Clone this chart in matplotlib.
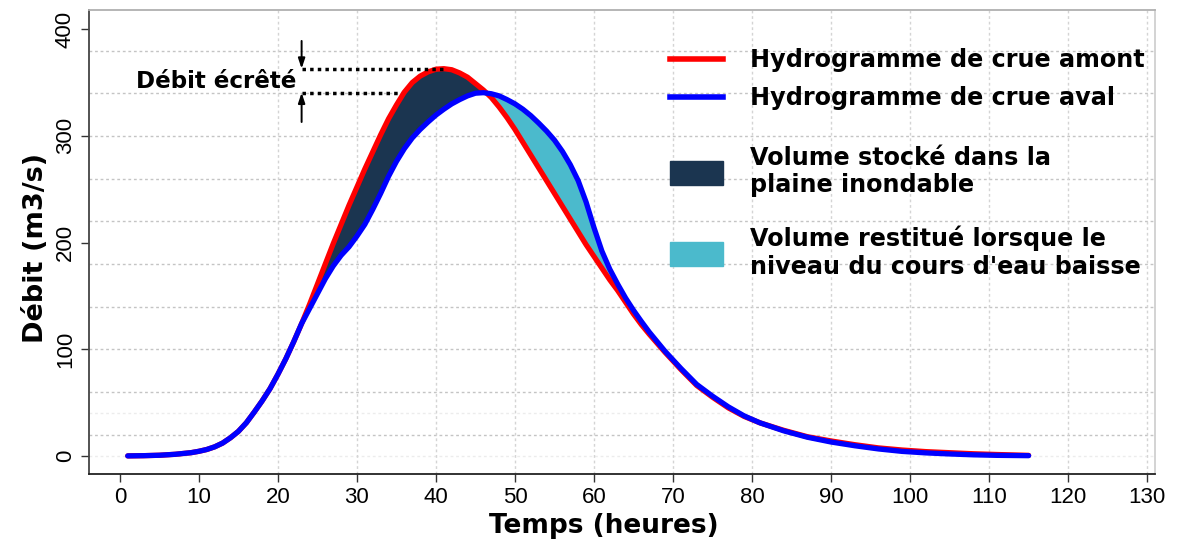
import matplotlib
matplotlib.use("Agg")
import matplotlib.pyplot as plt
from matplotlib.lines import Line2D
from matplotlib.patches import Patch
import numpy as np

# hours (shared by both hydrographs)
hours = [1, 3, 5, 7, 9, 10, 11, 12, 13, 14, 15, 16, 17, 18, 19, 20, 21, 22,
         23, 24, 25, 26, 27, 28, 29, 30, 31, 32, 33, 34, 35, 36, 37, 38, 39, 40,
         41, 42, 43, 44, 45, 46, 47, 48, 49, 50, 51, 52, 53, 54, 55, 56, 57, 58,
         59, 60, 61, 62, 63, 64, 65, 66, 67, 69, 71, 73, 75, 77, 79, 81, 84, 87,
         90, 93, 96, 99, 102, 105, 108, 111, 115]

# upstream flood hydrograph (m3/s)
amont = [0, 0.2, 0.6, 1.5, 3, 4.3, 6, 8.5, 12, 17, 23, 31, 41, 51.5, 63, 76.5, 91, 107,
         124, 142, 161, 180, 199, 217, 235, 252, 269, 285, 301, 316, 329, 341, 350, 356, 360, 362.5,
         363, 362, 359, 355, 349, 343, 336, 327, 317, 306, 294, 282, 270, 258, 246, 234, 222, 210,
         198, 187, 176, 165, 155, 144, 133, 123, 114, 97, 81, 66, 55, 45, 37, 31, 24, 18,
         14, 10.5, 7.5, 5.5, 4, 3, 2, 1.3, 0.5]

# downstream flood hydrograph (m3/s)
aval = [0, 0.2, 0.6, 1.5, 3, 4.3, 6, 8.5, 12, 17, 23, 31, 41, 51.5, 63, 76.5, 91, 107,
        124, 138, 152, 166, 178, 188, 196, 206, 217, 231, 246, 262, 276, 288, 298, 306, 313, 319.5,
        325, 330, 334, 337.5, 340, 340.5, 339.5, 337.5, 334, 330, 325, 319, 312, 304.5, 296, 285.5, 273, 258,
        238, 214, 192, 175, 161, 148, 136.5, 126, 116, 98, 82, 67, 56, 46, 37.5, 31, 23.5, 17.5,
        13, 9.5, 6.5, 4.2, 2.8, 1.8, 1, 0.5, 0.2]

xticks = list(range(0, 131, 10))
yticks = [0, 100, 200, 300, 400]
peak_amont = max(amont)
peak_aval = max(aval)

x = np.array(hours)
up = np.array(amont)
down = np.array(aval)

fig = plt.figure(figsize=(11.92, 5.41), dpi=100)
ax = fig.add_axes([0.0747, 0.1238, 0.8943, 0.8577])

ax.set_xlim(-3.9, 131)
ax.set_ylim(-17, 418)

# grid
for gy in range(20, 400, 40):
    ax.axhline(gy, color="#c4c4c4", lw=1, ls=(0, (2, 2)), zorder=0)
for gy in [0, 40]:
    ax.axhline(gy, color="#ececec", lw=1, ls=(0, (2, 2)), zorder=0)
for gx in range(20, 131, 10):
    ax.axvline(gx, color="#d4d4d4", lw=1, ls=(0, (2, 2)), zorder=0)

# stored / restituted volumes
ax.fill_between(x, up, down, where=up >= down, interpolate=True,
                color="#1b3550", lw=0, zorder=2)
ax.fill_between(x, up, down, where=down >= up, interpolate=True,
                color="#4bbacc", lw=0, zorder=2)

ax.plot(x, up, color="#ff0000", lw=3.8, solid_capstyle="round", zorder=3)
ax.plot(x, down, color="#0000ff", lw=3.8, solid_capstyle="round", zorder=4)

# peak attenuation annotation
ax.plot([23, 41], [peak_amont, peak_amont], color="black", lw=2.5, ls=(0, (1, 1.2)), zorder=5)
ax.plot([23, 43], [peak_aval, peak_aval], color="black", lw=2.5, ls=(0, (1, 1.2)), zorder=1)
arrow = dict(arrowstyle="-|>,head_length=0.6,head_width=0.2", color="black", lw=1.4,
             shrinkA=0, shrinkB=0)
ax.annotate("", xy=(23, peak_amont), xytext=(23, 389), arrowprops=arrow)
ax.annotate("", xy=(23, peak_aval), xytext=(23, 313), arrowprops=arrow)
ax.text(22.4, 351, "Débit écrêté", ha="right", va="center",
        fontsize=16.6, fontweight="bold", family="DejaVu Sans")

# axes styling
ax.set_xticks(xticks)
ax.set_yticks(yticks)
ax.tick_params(axis="both", direction="out", length=6, width=1, color="#333333",
               labelsize=16)
for lab in ax.get_xticklabels() + ax.get_yticklabels():
    lab.set_family("Liberation Sans")
for lab in ax.get_yticklabels():
    lab.set_rotation(90)
    lab.set_va("center")
ax.spines["left"].set_color("#444444")
ax.spines["bottom"].set_color("#222222")
ax.spines["top"].set_color("#b0b0b0")
ax.spines["right"].set_color("#d0d0d0")
for s in ax.spines.values():
    s.set_linewidth(1.3)

ax.set_xlabel("Temps (heures)", fontsize=19, fontweight="bold")
ax.set_ylabel("Débit (m3/s)", fontsize=19.5, fontweight="bold")
ax.xaxis.set_label_coords(0.483, -0.083)
ax.yaxis.set_label_coords(-0.038, 0.488)

# legends
h1 = [Line2D([], [], color="#ff0000", lw=4), Line2D([], [], color="#0000ff", lw=4)]
leg1 = ax.legend(h1, ["Hydrogramme de crue amont", "Hydrogramme de crue aval"],
                 loc="upper left", bbox_to_anchor=(0.545, 0.918), frameon=False,
                 borderpad=0, borderaxespad=0, handlelength=2.2, handletextpad=1.15,
                 labelspacing=0.6, prop=dict(size=17.2, weight="bold"))
ax.add_artist(leg1)
h2 = [Patch(facecolor="#1b3550", edgecolor="#1b3550"),
      Patch(facecolor="#4bbacc", edgecolor="#4bbacc")]
ax.legend(h2, ["Volume stocké dans la\nplaine inondable",
               "Volume restitué lorsque le\nniveau du cours d'eau baisse"],
          loc="upper left", bbox_to_anchor=(0.545, 0.708), frameon=False,
          borderpad=0, borderaxespad=0, handlelength=2.2, handleheight=1.15,
          handletextpad=1.15, labelspacing=1.2, prop=dict(size=17.2, weight="bold"))

fig.savefig("out.png", dpi=100)
